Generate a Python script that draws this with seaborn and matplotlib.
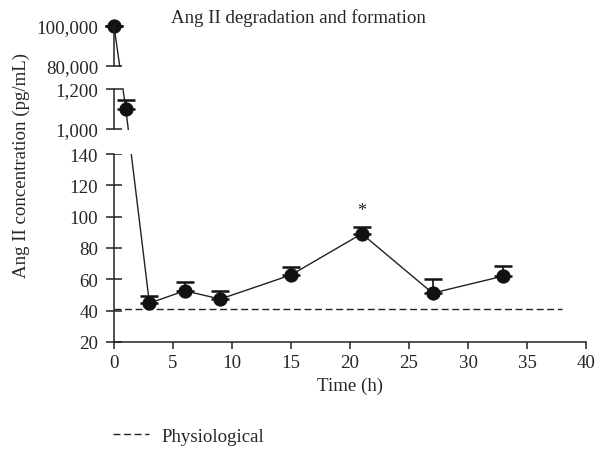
import numpy as np
import matplotlib
matplotlib.use("Agg")
import matplotlib.pyplot as plt
from matplotlib.lines import Line2D
from matplotlib.ticker import FuncFormatter, NullLocator
import seaborn as sns

# data
time_h = [0, 1, 3, 6, 9, 15, 21, 27, 33]
ang2 = [100000, 1100, 44.8, 52.7, 47.4, 62.8, 89.1, 51.2, 62.1]
err_up = [0, 45, 4.3, 5.8, 5.3, 4.9, 4.3, 9.0, 6.7]
physio_level = 41
physio_x = [0, 38]
y_ticks = [20, 40, 60, 80, 100, 120, 140, 1000, 1200, 80000, 100000]
x_ticks = [0, 5, 10, 15, 20, 25, 30, 35, 40]

# broken y axis: piecewise linear scale (value -> screen units)
yb = np.array([20, 140, 1000, 1200, 80000, 100000], float)
ub = np.array([0, 188, 213, 253, 276, 316], float)
segments = [(20, 140), (1000, 1200), (80000, 100000)]
gaps = [(141.5, 950), (6300, 74900)]


def fwd(v):
    v = np.asarray(v, float)
    out = np.interp(v, yb, ub)
    out = np.where(v > yb[-1], ub[-1] + (v - yb[-1]) * 40 / 20000, out)
    out = np.where(v < yb[0], (v - yb[0]) * 188 / 120, out)
    return out


def inv(u):
    u = np.asarray(u, float)
    out = np.interp(u, ub, yb)
    out = np.where(u > ub[-1], yb[-1] + (u - ub[-1]) * 20000 / 40, out)
    out = np.where(u < ub[0], yb[0] + u * 120 / 188, out)
    return out


sns.set_style("ticks")
plt.rcParams["font.family"] = ["Liberation Serif", "DejaVu Serif"]
fs = 13.6

fig = plt.figure(figsize=(5.96, 4.52), dpi=100)
ax = fig.add_axes([114 / 596, 1 - 343 / 452, 472 / 596, 316 / 452])
ax.set_yscale("function", functions=(fwd, inv))

dash = (0, (5, 2.6))
# physiological level
ax.plot(physio_x, [physio_level] * 2, color="#222222", lw=1, ls=dash)

# error bars (upper only)
ax.errorbar(time_h, ang2, yerr=[np.zeros(len(err_up)), err_up], fmt="none",
            ecolor="#111111", elinewidth=1.2, capsize=6.5, capthick=1.8,
            clip_on=False, zorder=2)

sns.lineplot(x=time_h, y=ang2, ax=ax, color="#222222", lw=1, marker="o",
             markersize=9.5, markeredgecolor="#111111", markerfacecolor="#111111",
             clip_on=False, zorder=3)

# blank the axis breaks
for lo, hi in gaps:
    ax.axhspan(lo, hi, color="white", lw=0, zorder=4)

ax.text(21, 104, "*", ha="center", va="center", fontsize=13)

ax.set_xlim(0, 40)
ax.set_ylim(20, 100000)
ax.set_xticks(x_ticks)
ax.set_yticks(y_ticks)
ax.yaxis.set_minor_locator(NullLocator())
ax.yaxis.set_major_formatter(FuncFormatter(lambda v, p: f"{int(round(v)):,}"))

# hide full spines, draw the broken left axis pieces
sns.despine(ax=ax)
ax.spines["left"].set_visible(False)
for lo, hi in segments:
    ax.plot([0, 0], [lo, hi], color="#222222", lw=1.1, clip_on=False, zorder=5)
ax.spines["bottom"].set_linewidth(1.1)
ax.spines["bottom"].set_color("#222222")
ax.tick_params(axis="y", direction="inout", length=11, width=1.1,
               color="#222222", pad=6, labelsize=fs)
ax.tick_params(axis="x", direction="out", length=5, width=1.1,
               color="#222222", pad=4, labelsize=fs)

ax.set_xlabel("Time (h)", labelpad=4, fontsize=fs)
ax.set_ylabel("")
fig.text(0.035, 1 - 166 / 452, "Ang II concentration (pg/mL)", rotation=90,
         ha="center", va="center", fontsize=fs)
fig.text(0.5, 1 - 18 / 452, "Ang II degradation and formation", ha="center",
         va="center", fontsize=fs)

handle = Line2D([], [], color="#222222", lw=1, ls=dash)
fig.legend([handle], ["Physiological"], loc="center left",
           bbox_to_anchor=(113 / 596, 1 - 437 / 452), frameon=False,
           borderpad=0, borderaxespad=0, handlelength=1.9, handletextpad=0.65,
           fontsize=fs)

fig.savefig("out.png", dpi=100)
